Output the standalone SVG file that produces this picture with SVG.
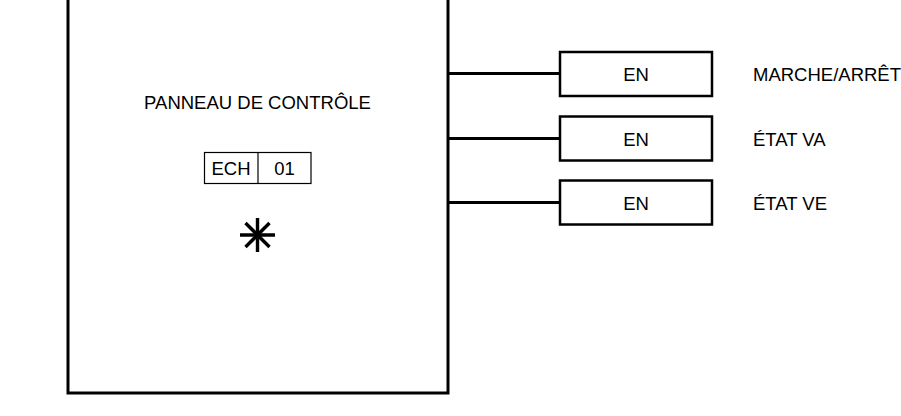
<svg xmlns="http://www.w3.org/2000/svg" width="901" height="416" viewBox="0 0 901 416">
<style>
text{font-family:"Liberation Sans",Arial,sans-serif;font-size:18.5px;fill:#000}
.c{text-anchor:middle}
.main{fill:#fff;stroke:#000;stroke-width:3}
.en{fill:#fff;stroke:#000;stroke-width:2.5}
.thin{fill:#fff;stroke:#000;stroke-width:1.2}
.wire{stroke:#000;stroke-width:3;fill:none}
</style>
<rect width="901" height="416" fill="#fff"/>
<g id="panneau">
<rect class="main" x="68" y="-5" width="380" height="398"/>
<text class="c" x="257.5" y="109">PANNEAU DE CONTRÔLE</text>
<rect class="thin" x="204.5" y="152.5" width="106.5" height="31"/>
<line x1="258" y1="152.5" x2="258" y2="183.5" stroke="#000" stroke-width="1.2"/>
<text class="c" x="231" y="174.5">ECH</text>
<text class="c" x="284.5" y="174.5">01</text>
<g stroke="#000" stroke-width="3.4">
<line x1="257.5" y1="218" x2="257.5" y2="252"/>
<line x1="240" y1="235" x2="275" y2="235"/>
<line x1="245.5" y1="223" x2="269.5" y2="247"/>
<line x1="245.5" y1="247" x2="269.5" y2="223"/>
</g>
</g>
<g id="connectors">
<line class="wire" x1="448" y1="73.5" x2="561" y2="73.5"/>
<line class="wire" x1="448" y1="138.5" x2="561" y2="138.5"/>
<line class="wire" x1="448" y1="202.5" x2="561" y2="202.5"/>
</g>
<g id="en1">
<rect class="en" x="560" y="52" width="152" height="44"/>
<text class="c" x="636" y="81">EN</text>
</g>
<g id="en2">
<rect class="en" x="560" y="116.5" width="152" height="44"/>
<text class="c" x="636" y="145.5">EN</text>
</g>
<g id="en3">
<rect class="en" x="560" y="180.5" width="152" height="44"/>
<text class="c" x="636" y="209.5">EN</text>
</g>
<g id="labels">
<text x="753" y="81">MARCHE/ARRÊT</text>
<text x="753" y="145.5">ÉTAT VA</text>
<text x="753" y="209.5">ÉTAT VE</text>
</g>
</svg>
